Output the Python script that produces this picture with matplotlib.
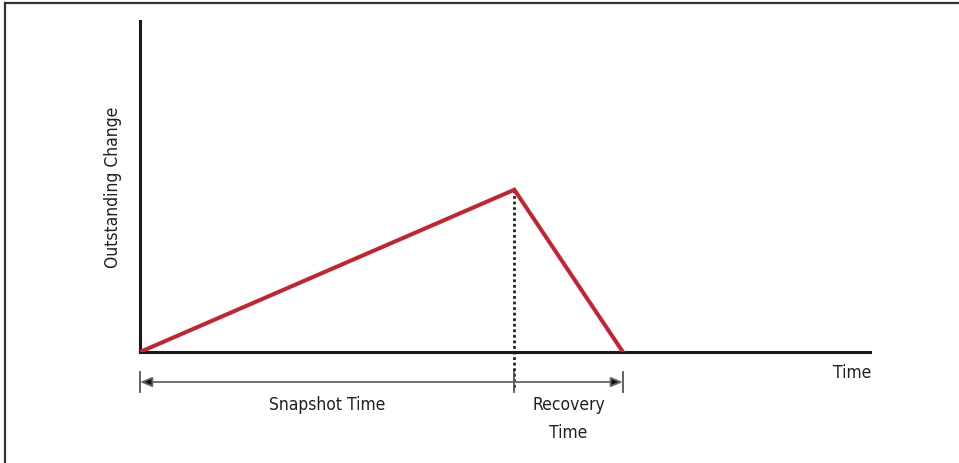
import matplotlib
matplotlib.use("Agg")
import matplotlib.pyplot as plt
from matplotlib.lines import Line2D

plt.rcParams['font.family'] = ['Liberation Sans Narrow', 'DejaVu Sans']
plt.rcParams['font.stretch'] = 'condensed'

# data: time points and outstanding change
time_pts = [0, 10, 12.9]
change_pts = [0, 1.0, 0]
x_max = 19.5
y_max = 2.04
spans = [(0, 10, "Snapshot Time", "<|-"), (10, 12.9, "Recovery\nTime", "-|>")]

W, H = 959, 464
fig = plt.figure(figsize=(W / 100, H / 100), dpi=100)
ax = fig.add_axes([140 / W, (H - 353) / H, (870 - 140) / W, (353 - 22) / H])

ax.plot(time_pts, change_pts, color="#c4242f", lw=2.9, solid_joinstyle="miter", zorder=3)
# dotted line from peak down past axis
ax.plot([time_pts[1], time_pts[1]], [change_pts[1], -0.23], color="#222222",
        lw=2.0, ls=(0, (1, 1)), clip_on=False, zorder=2)

ax.set_xlim(0, x_max)
ax.set_ylim(0, y_max)
for s in ["top", "right"]:
    ax.spines[s].set_visible(False)
for s in ["left", "bottom"]:
    ax.spines[s].set_linewidth(2.2)
    ax.spines[s].set_color("#1a1a1a")
ax.set_xticks([])
ax.set_yticks([])

txt = "#231f20"
ax.set_ylabel("Outstanding Change", fontsize=12.5, color=txt, labelpad=13)
ax.text(x_max - 0.48, -0.125, "Time", fontsize=12.5, color=txt, ha="center", va="center")

y_arr = -0.185
for a, b, label, style in spans:
    ax.annotate("", xy=(a, y_arr) if style == "<|-" else (b, y_arr),
                xytext=(b, y_arr) if style == "<|-" else (a, y_arr),
                arrowprops=dict(arrowstyle="-|>,head_length=0.6,head_width=0.25",
                                fc="#111111", ec="#666666", lw=1.3,
                                shrinkA=0, shrinkB=0, mutation_scale=12),
                annotation_clip=False)
    ax.text((a + b) / 2, y_arr - 0.08, label, fontsize=12.5, color=txt,
            ha="center", va="top", linespacing=1.75)
for t in [0, 10, 12.9]:
    ax.plot([t, t], [y_arr - 0.06, y_arr + 0.06], color="#555555", lw=1.3, clip_on=False)

# frame lines at top and left
fig.add_artist(Line2D([5 / W, 1], [1 - 4 / H, 1 - 4 / H], color="#333333", lw=1.6))
fig.add_artist(Line2D([5 / W, 5 / W], [0, 1 - 4 / H], color="#333333", lw=1.6))

fig.savefig("out.png", dpi=100)
